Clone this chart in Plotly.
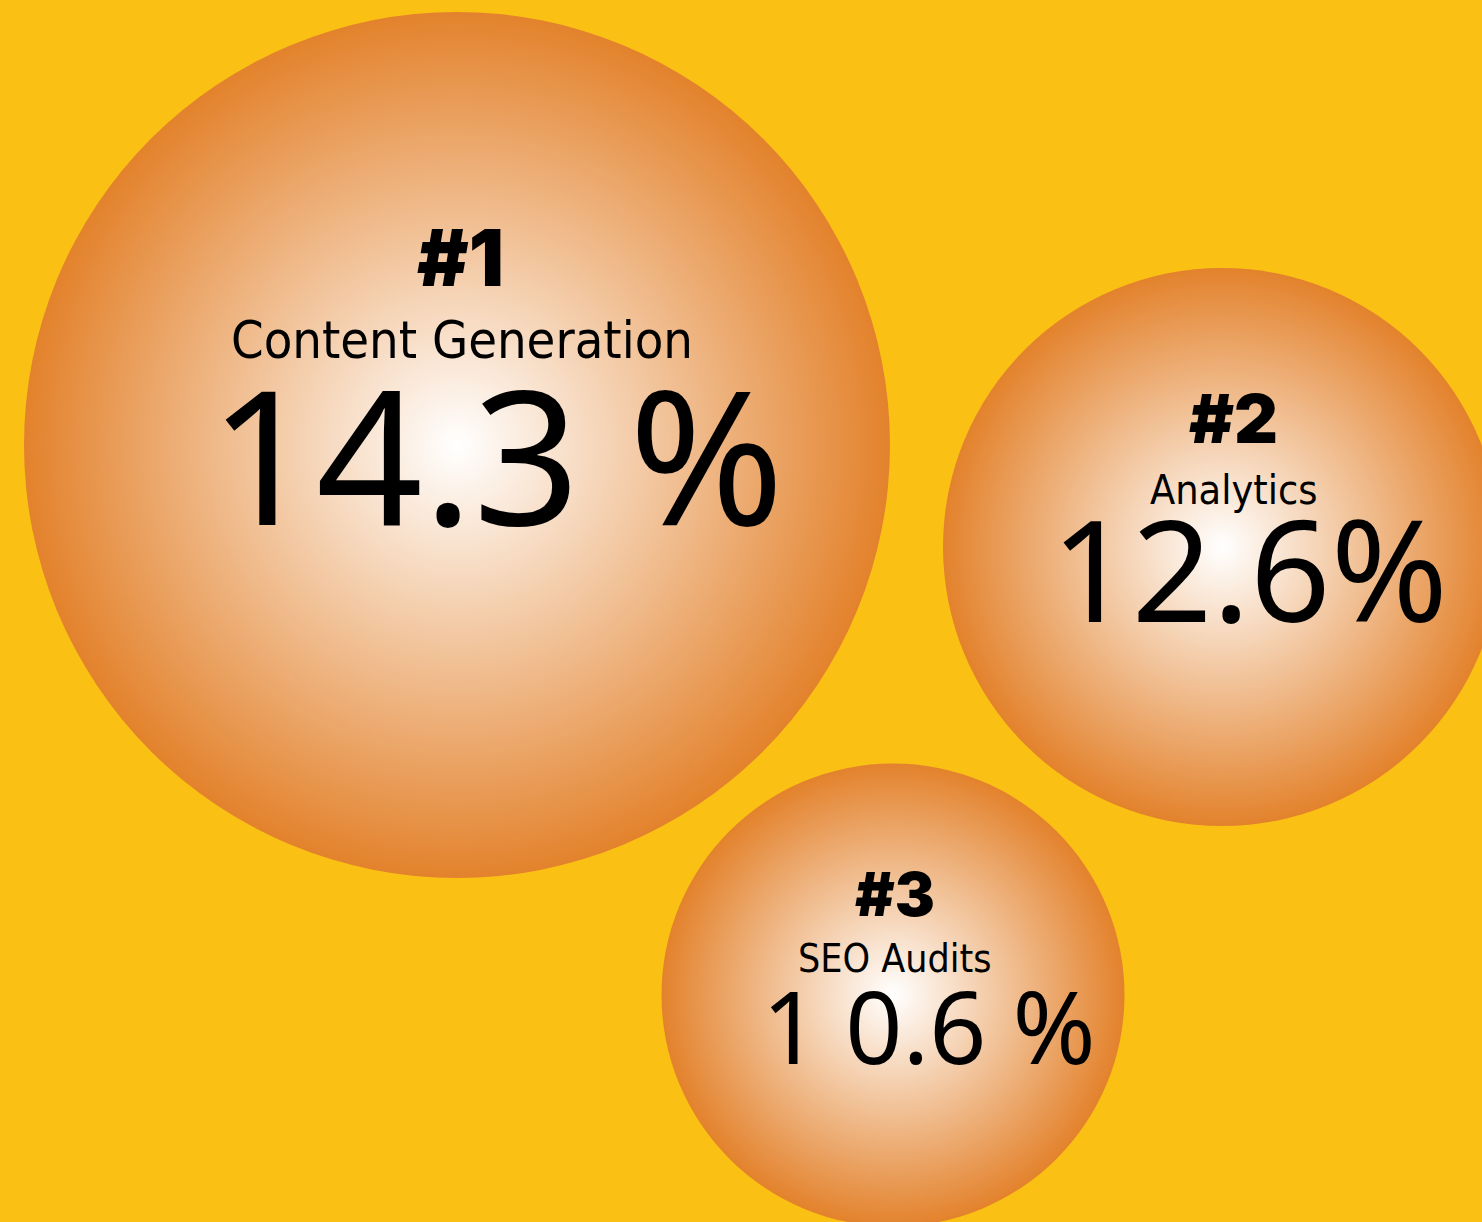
import plotly.graph_objects as go

# Data
ranks = ["#1", "#2", "#3"]
categories = ["Content Generation", "Analytics", "SEO Audits"]
value_labels = ["14.3 %", "12.6%", "1 0.6 %"]
values = [14.3, 12.6, 10.6]

# Bubble layout (pixel space)
bubble_x = [457, 1222, 893]
bubble_y = [445, 547, 995]
bubble_diam = [866, 558, 463]

BG = "#FAC014"
EDGE = "#E3822C"

fig = go.Figure()
fig.add_trace(go.Scatter(
    x=bubble_x, y=bubble_y, mode="markers",
    marker=dict(size=bubble_diam, color=EDGE, line=dict(width=0),
                gradient=dict(type="radial", color="#FFFFFF"), opacity=1),
    hoverinfo="skip", showlegend=False,
))

# text styling per bubble
rank_size = [78, 68, 60]
cat_size = [52, 41, 39]
val_size = [187, 141, 100]
rank_dx = [3, 11, 2]
cat_dx = [5, 11, 2]
val_dx = [39, 27, 36]
rank_dy = [-188, -129, -101]
cat_dy = [-105, -57, -37]
val_dy = [7, 20, 30]

for i in range(3):
    cx, cy = bubble_x[i], bubble_y[i]
    fig.add_annotation(x=cx + rank_dx[i], y=cy + rank_dy[i], text=ranks[i], showarrow=False,
                       xanchor="center", yanchor="middle",
                       font=dict(family="Inter", size=rank_size[i], color="black", weight=900))
    fig.add_annotation(x=cx + cat_dx[i], y=cy + cat_dy[i], text=categories[i], showarrow=False,
                       xanchor="center", yanchor="middle",
                       font=dict(family="DejaVu Sans Condensed", size=cat_size[i], color="black"))
    fig.add_annotation(x=cx + val_dx[i], y=cy + val_dy[i], text=value_labels[i], showarrow=False,
                       xanchor="center", yanchor="middle",
                       font=dict(family="Noto Sans", size=val_size[i], color="black"))

fig.update_layout(
    width=1482, height=1222,
    margin=dict(l=0, r=0, t=0, b=0),
    paper_bgcolor=BG, plot_bgcolor=BG,
    xaxis=dict(range=[0, 1482], visible=False, fixedrange=True),
    yaxis=dict(range=[1222, 0], visible=False, fixedrange=True),
    showlegend=False,
)
fig.write_html("out.html", config={"displayModeBar": False})
